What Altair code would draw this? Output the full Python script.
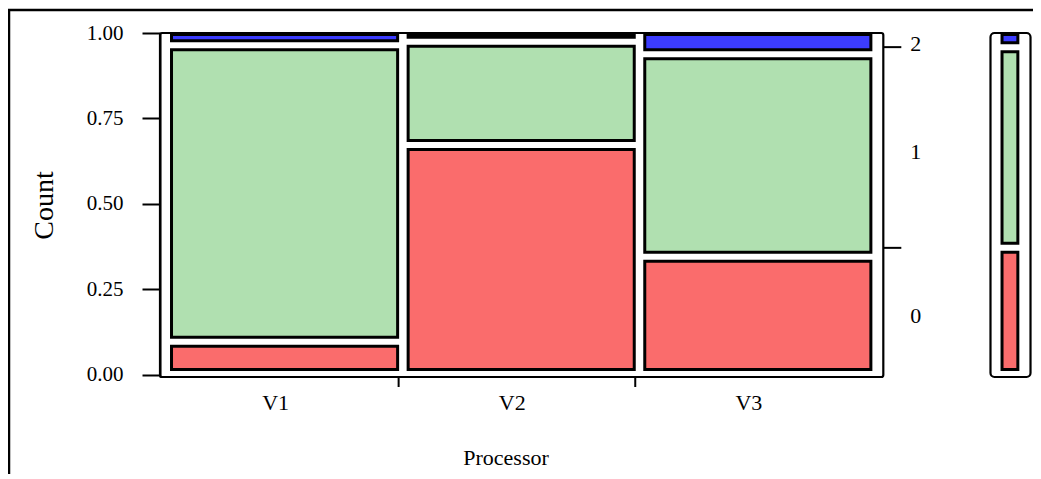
import altair as alt
import pandas as pd

# ---- data (shares of each level within each processor) ----
processors = ["V1", "V2", "V3"]
levels = ["0", "1", "2"]
share_0 = [0.073, 0.694, 0.341]
share_1 = [0.907, 0.297, 0.611]
share_2 = [0.020, 0.009, 0.048]
y_ticks = [0.0, 0.25, 0.5, 0.75, 1.0]
level_colors = ["#fa6c6c", "#b0e0b0", "#3c3cff"]

FONT = "Liberation Serif"

# ---- layout constants (column units: one tile width = 1) ----
GAP_X = 0.0465
LO, HI, GAP_Y = 0.0164, 0.9956, 0.0263
Y_MIN = -0.00585
PANEL_L, PANEL_R = -0.0509, 3.148
MARG_L, MARG_R = 3.622, 3.799
MTILE_L, MTILE_R = 3.673, 3.743
X_MAX = 3.81
PX_PER_UNIT = 226.1
W = round((X_MAX - PANEL_L) * PX_PER_UNIT)
H = 344


def stack(shares, x0, x1, name):
    rows = []
    avail = HI - LO - GAP_Y * (len(shares) - 1)
    y = LO
    for lev, s in zip(levels, shares):
        h = s * avail
        rows.append(dict(proc=name, level=lev, x0=x0, x1=x1, y0=y, y1=y + h,
                         ymid=y + h / 2))
        y = y + h + GAP_Y
    return rows


tiles = []
for i, p in enumerate(processors):
    x0 = i * (1 + GAP_X)
    tiles += stack([share_0[i], share_1[i], share_2[i]], x0, x0 + 1, p)
tiles_df = pd.DataFrame(tiles)

marg_shares = [sum(share_0) / 3, sum(share_1) / 3, sum(share_2) / 3]
marg_df = pd.DataFrame(stack(marg_shares, MTILE_L, MTILE_R, "all"))

# right-hand level axis: ticks in gaps between marginal segments, labels at mids
bounds = [marg_df.y1[0] + GAP_Y / 2, marg_df.y1[1] + GAP_Y / 2]
rtick_df = pd.DataFrame({"x0": PANEL_R, "x1": PANEL_R + 18 / PX_PER_UNIT, "y": bounds})
rlab_df = pd.DataFrame({"x": PANEL_R + 27 / PX_PER_UNIT, "y": marg_df.ymid, "t": levels})

# bottom axis
btick_df = pd.DataFrame({"x": [i * (1 + GAP_X) + 1 + 1 / PX_PER_UNIT for i in range(2)],
                         "y0": Y_MIN, "y1": Y_MIN - 10 / 342})
blab_df = pd.DataFrame({"x": [i * (1 + GAP_X) + 0.5 for i in range(3)],
                        "y": -0.0819, "t": processors})

panel_df = pd.DataFrame({"x0": [PANEL_L], "x1": [PANEL_R], "y0": [Y_MIN], "y1": [1.0]})
margframe_df = pd.DataFrame({"x0": [MARG_L], "x1": [MARG_R], "y0": [Y_MIN], "y1": [1.0]})

xs = alt.Scale(domain=[PANEL_L, X_MAX], nice=False, zero=False)
ys = alt.Scale(domain=[Y_MIN, 1.0], nice=False, zero=False)
yaxis = alt.Axis(values=y_ticks, format=".2f", tickSize=18, tickWidth=2,
                 tickColor="black", domainColor="black", domainWidth=2,
                 labelFont=FONT, labelFontSize=21, labelColor="black",
                 labelPadding=19, grid=False, title="Count", titleFont=FONT,
                 titleFontSize=28, titleFontWeight="normal", titleColor="black",
                 titleAngle=270, titleX=-116, titleY=172, titleAlign="center",
                 titleBaseline="middle")


def X(f):
    return alt.X(f, type="quantitative", scale=xs, axis=None)


def Y(f):
    return alt.Y(f, type="quantitative", scale=ys, axis=yaxis)


panel = alt.Chart(panel_df).mark_rect(fill="transparent", stroke="black",
                                      strokeWidth=2.2, cornerRadius=2).encode(
    x=X("x0"), x2="x1", y=Y("y0"), y2="y1")
margframe = alt.Chart(margframe_df).mark_rect(fill="transparent", stroke="black",
                                              strokeWidth=2.2, cornerRadius=4).encode(
    x=X("x0"), x2="x1", y=Y("y0"), y2="y1")

cscale = alt.Scale(domain=levels, range=level_colors)
tiles_l = alt.Chart(tiles_df).mark_rect(stroke="black", strokeWidth=3).encode(
    x=X("x0"), x2="x1", y=Y("y0"), y2="y1",
    fill=alt.Fill("level:N", scale=cscale, legend=None))
marg_l = alt.Chart(marg_df).mark_rect(stroke="black", strokeWidth=3).encode(
    x=X("x0"), x2="x1", y=Y("y0"), y2="y1",
    fill=alt.Fill("level:N", scale=cscale, legend=None))

rticks = alt.Chart(rtick_df).mark_rule(color="black", strokeWidth=2).encode(
    x=X("x0"), x2="x1", y=Y("y"))
rlabs = alt.Chart(rlab_df).mark_text(font=FONT, fontSize=22, align="left",
                                     baseline="middle", dy=5, color="black").encode(
    x=X("x"), y=Y("y"), text="t:N")
bticks = alt.Chart(btick_df).mark_rule(color="black", strokeWidth=2).encode(
    x=X("x"), y=Y("y0"), y2="y1")
blabs = alt.Chart(blab_df).mark_text(font=FONT, fontSize=22, align="center",
                                     baseline="middle", dx=-9, color="black").encode(
    x=X("x"), y=Y("y"), text="t:N")
xtitle = alt.Chart(pd.DataFrame({"t": ["Processor"]})).mark_text(
    font=FONT, fontSize=22, align="center", baseline="middle", color="black").encode(
    x=alt.value(346), y=alt.value(425), text="t:N")

outer_top = alt.Chart(pd.DataFrame({"a": [0]})).mark_rule(color="black", strokeWidth=2.5).encode(
    x=alt.value(-152), x2=alt.value(W + 2), y=alt.value(-23))
outer_left = alt.Chart(pd.DataFrame({"a": [0]})).mark_rule(color="black", strokeWidth=2.5).encode(
    x=alt.value(-151), y=alt.value(-24), y2=alt.value(H + 100))

chart = alt.layer(panel, margframe, tiles_l, marg_l, rticks, rlabs, bticks, blabs, xtitle,
                  outer_top, outer_left).properties(
    width=W, height=H, background="white",
    padding={"left": 152, "top": 25, "right": 0, "bottom": 97},
    autosize=alt.AutoSizeParams(type="none"),
).configure_view(stroke=None)

chart.save("out.html", embed_options={"renderer": "svg", "actions": False})
